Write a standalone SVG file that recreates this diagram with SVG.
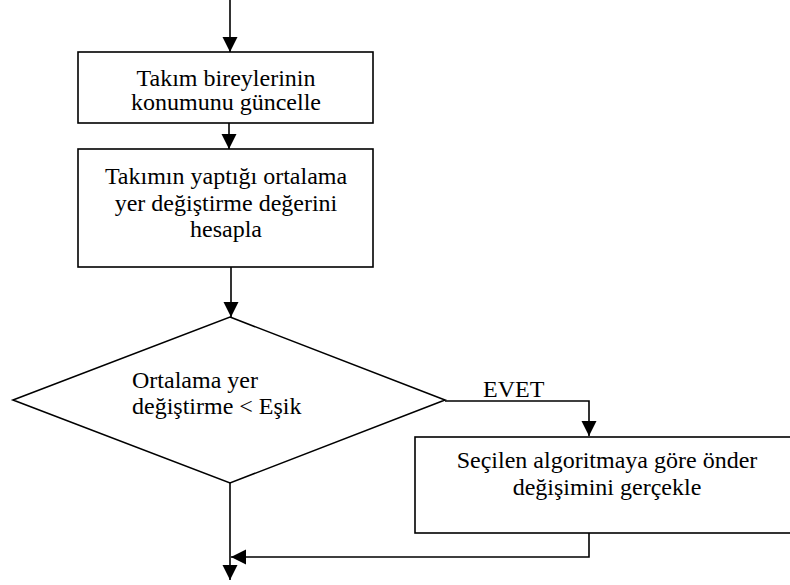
<svg xmlns="http://www.w3.org/2000/svg" width="790" height="585" viewBox="0 0 790 585">
<style>
.box{fill:#fff;stroke:#000;stroke-width:1.6}
.ln{fill:none;stroke:#000;stroke-width:1.6}
.t{font-family:"Liberation Serif","Times New Roman",serif;font-size:24px;fill:#000}
.c{text-anchor:middle}
</style>
<defs>
<marker id="ah" markerUnits="userSpaceOnUse" markerWidth="16" markerHeight="16" viewBox="0 0 16 16" refX="15" refY="8" orient="auto">
<path d="M0,0.5 L15,8 L0,15.5 Z" fill="#000"/>
</marker>
<clipPath id="clip1"><rect x="78" y="52" width="295" height="63"/></clipPath>
</defs>
<rect width="790" height="585" fill="#fff"/>
<g id="connectors">
<line class="ln" x1="230" y1="0" x2="230" y2="52" marker-end="url(#ah)"/>
<line class="ln" x1="229" y1="123" x2="229" y2="149" marker-end="url(#ah)"/>
<line class="ln" x1="231" y1="267" x2="231" y2="317" marker-end="url(#ah)"/>
<polyline class="ln" points="445,401 589,401 589,436" marker-end="url(#ah)"/>
<line class="ln" x1="230" y1="483" x2="230" y2="580" marker-end="url(#ah)"/>
<polyline class="ln" points="589,533 589,557 231,557" marker-end="url(#ah)"/>
<text class="t" x="483" y="397">EVET</text>
</g>
<g id="node1">
<rect class="box" x="78" y="52" width="295" height="71"/>
<g clip-path="url(#clip1)">
<text class="t c" x="226" y="86">Takım bireylerinin</text>
<text class="t c" x="226" y="110">konumunu güncelle</text>
</g>
</g>
<g id="node2">
<rect class="box" x="78" y="149" width="295" height="118"/>
<text class="t c" x="226" y="184">Takımın yaptığı ortalama</text>
<text class="t c" x="226" y="211">yer değiştirme değerini</text>
<text class="t c" x="226" y="237">hesapla</text>
</g>
<g id="decision">
<polygon class="box" points="230,317 445,400 230,483 13,400"/>
<text class="t" x="132" y="388">Ortalama yer</text>
<text class="t" x="132" y="414">değiştirme &lt; Eşik</text>
</g>
<g id="node3">
<rect class="box" x="415" y="437" width="400" height="96"/>
<text class="t c" x="607" y="468">Seçilen algoritmaya göre önder</text>
<text class="t c" x="607" y="495">değişimini gerçekle</text>
</g>
</svg>
